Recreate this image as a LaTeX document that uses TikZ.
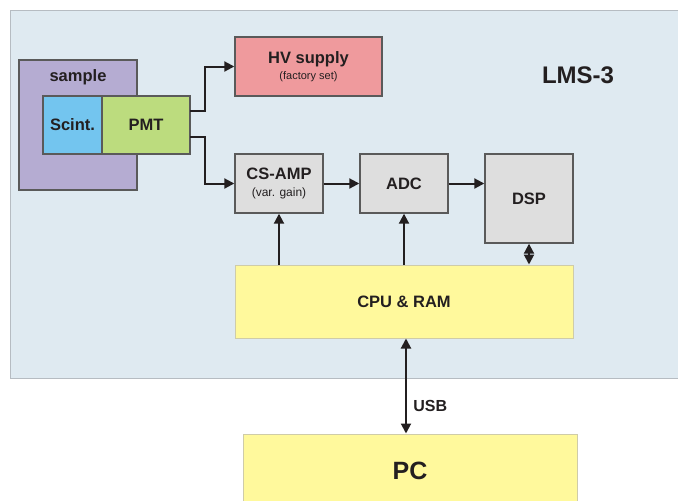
\documentclass[tikz,border=0pt]{standalone}
\usepackage{fontspec}
\setmainfont{Liberation Sans}
\usetikzlibrary{arrows.meta,calc}

\definecolor{panelfill}{HTML}{DFEAF1}
\definecolor{panelline}{HTML}{B6BCC2}
\definecolor{samplefill}{HTML}{B5ACD2}
\definecolor{scintfill}{HTML}{73C5EF}
\definecolor{pmtfill}{HTML}{BCDC7E}
\definecolor{hvfill}{HTML}{EF9A9D}
\definecolor{grayfill}{HTML}{DEDEDE}
\definecolor{yellowfill}{HTML}{FFF99C}
\definecolor{yellowline}{HTML}{CFCCA8}
\definecolor{boxline}{HTML}{5A5A5A}
\definecolor{ink}{HTML}{231F20}

\tikzset{
  blk/.style={draw=boxline, line width=1.4pt, inner sep=0pt, text=ink,
    font=\bfseries\fontsize{16.5}{19}\selectfont, align=center},
  ybox/.style={blk, draw=yellowline, fill=yellowfill, line width=1pt},
  tip/.tip={Triangle[length=10pt,width=10pt]},
  arr/.style={draw=ink, line width=2pt, -tip},
  darr/.style={draw=ink, line width=2pt, tip-tip}
}

\begin{document}
\begin{tikzpicture}[x=1pt,y=-1pt]
  \useasboundingbox (0,0) rectangle (678,501);

  % instrument panel
  \draw[panelline, fill=panelfill, line width=1pt] (10,10) rectangle (690,378);
  \node[text=ink, font=\bfseries\fontsize{24}{28}\selectfont] (lms) at (578,75) {LMS-3};

  % detector head
  \node[blk, fill=samplefill, minimum width=118pt, minimum height=130pt] (sample) at (78,125) {};
  \node[text=ink, font=\bfseries\fontsize{16.5}{19}\selectfont] (samplelbl) at (78,77) {sample};
  \node[blk, fill=scintfill, minimum width=59pt, minimum height=58pt] (scint) at (72.5,125) {Scint.};
  \node[blk, fill=pmtfill, minimum width=88pt, minimum height=58pt] (pmt) at (146,125) {PMT};

  % signal chain
  \node[blk, fill=hvfill, minimum width=147pt, minimum height=59pt] (hv) at (308.5,66.5)
    {HV supply\\[-3pt]{\normalfont\fontsize{11}{13}\selectfont (factory set)}};
  \node[blk, fill=grayfill, minimum width=88pt, minimum height=59pt] (csamp) at (279,183.5)
    {CS-AMP\\[-2pt]{\normalfont\fontsize{12}{14}\selectfont (var. gain)}};
  \node[blk, fill=grayfill, minimum width=88pt, minimum height=59pt] (adc) at (404,183.5) {ADC};
  \node[blk, fill=grayfill, minimum width=88pt, minimum height=89pt] (dsp) at (529,198.5) {DSP};
  \node[ybox, minimum width=338pt, minimum height=73pt] (cpu) at (404,301.5) {CPU \& RAM};
  \node[ybox, minimum width=334pt, minimum height=74pt, font=\bfseries\fontsize{25}{29}\selectfont] (pc) at (410,471) {PC};

  % routing points
  \coordinate (hvout) at (190,111);
  \coordinate (sigout) at (190,137);
  \coordinate (usbx) at (406,0);

  % connectors
  \draw[arr] (hvout) -- (205,111) |- (hv.west);
  \draw[arr] (sigout) -- (205,137) |- (csamp.west);
  \draw[arr] (csamp.east) -- (adc.west);
  \draw[arr] (adc.east) -- (dsp.west |- adc.east);
  \draw[arr] (csamp.south |- cpu.north) -- (csamp.south);
  \draw[arr] (adc.south |- cpu.north) -- (adc.south);
  \draw[darr] (dsp.south) -- (dsp.south |- cpu.north);
  \draw[darr] (cpu.south -| usbx) -- node[pos=0.71, right=3pt, text=ink,
    font=\bfseries\fontsize{16}{18}\selectfont] (usb) {USB} (pc.north -| usbx);
\end{tikzpicture}
\end{document}
